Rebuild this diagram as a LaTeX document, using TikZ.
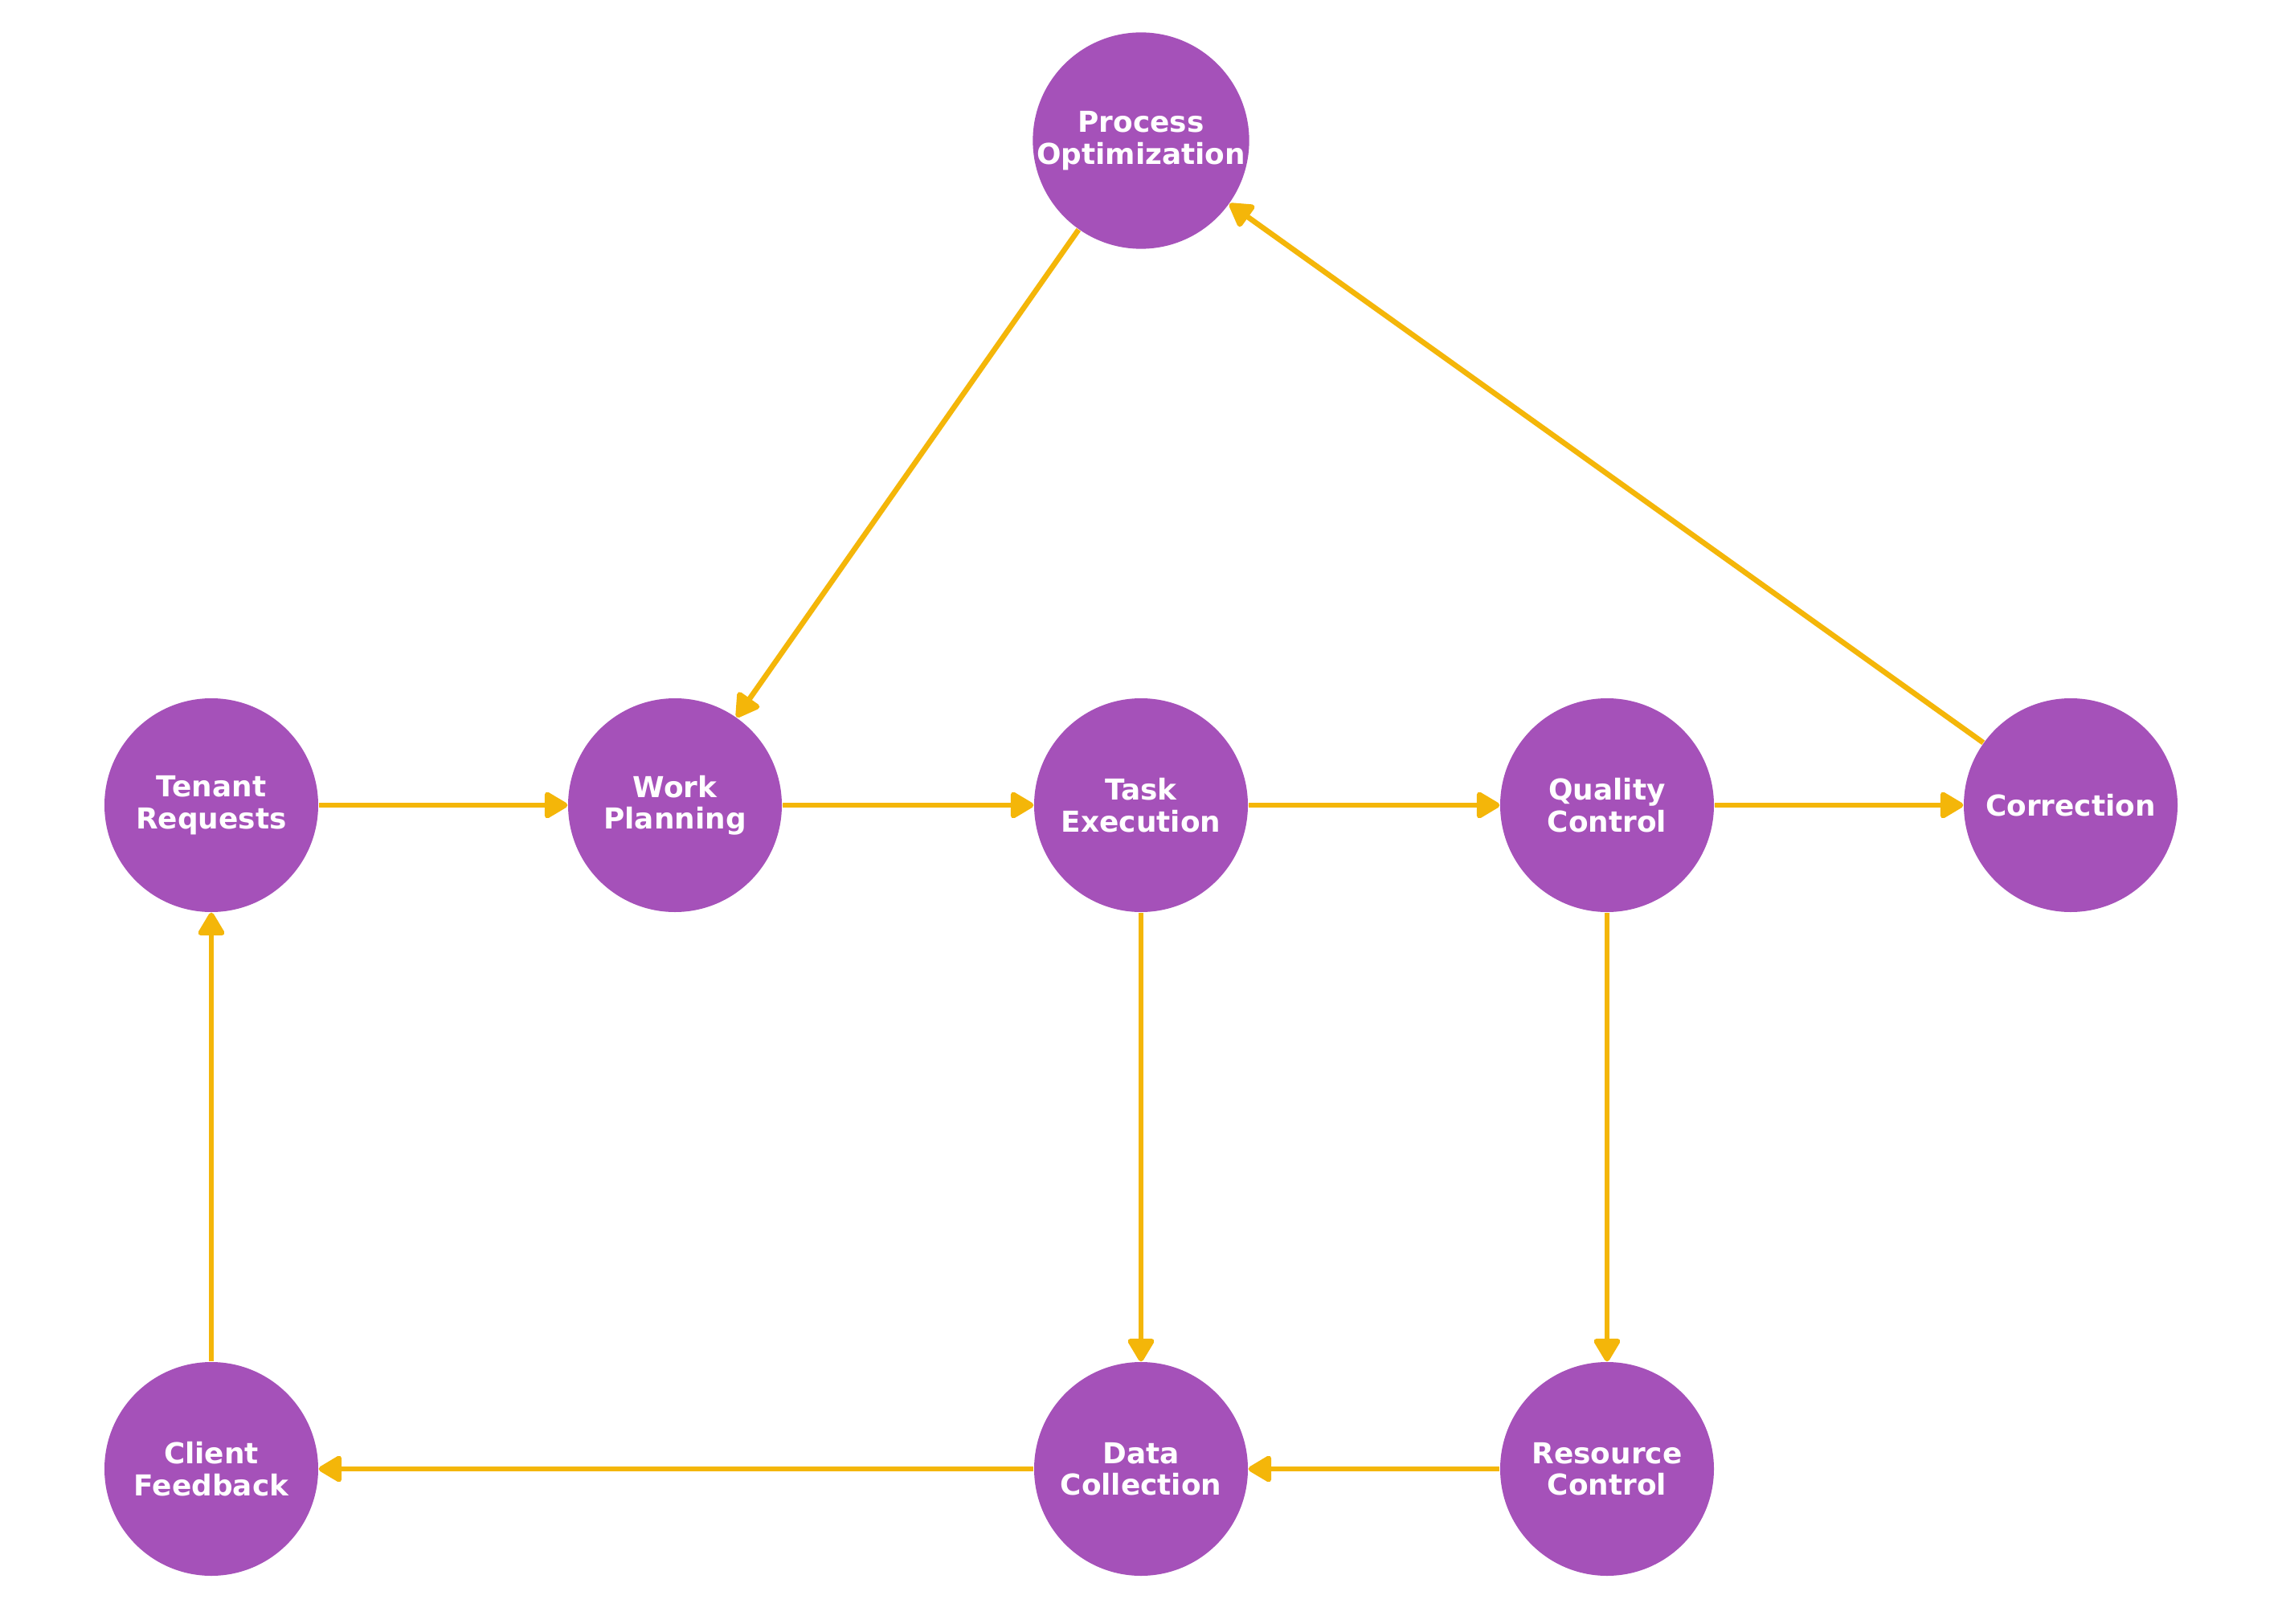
\documentclass[tikz,border=0pt]{standalone}
\usepackage{fontspec}
\setmainfont{DejaVu Sans}
\usetikzlibrary{arrows.meta}

\definecolor{stepviolet}{HTML}{A551B9}
\definecolor{flowgold}{HTML}{F4B609}

\tikzset{
	stage/.style={circle, fill=stepviolet, minimum size=2.66cm, inner sep=0pt,
		text=white, font=\bfseries\fontsize{10.2}{11.2}\selectfont, align=center},
	flow/.style={draw=flowgold, line width=1.9pt,
		-{Triangle[round, length=3.2mm, width=3.6mm]}}
}

\begin{document}
\begin{tikzpicture}
			\useasboundingbox (0,0) rectangle (28.4,-20.21);

			% Draw the stages
			\node[stage] (opt) at (14.20,-1.75) {Process\\Optimization};

			\node[stage] (tenant) at (2.63,-10.02) {Tenant\\Requests};
			\node[stage] (plan) at (8.40,-10.02) {Work\\Planning};
			\node[stage] (task) at (14.20,-10.02) {Task\\Execution};
			\node[stage] (qual) at (20.00,-10.02) {Quality\\Control};
			\node[stage] (corr) at (25.77,-10.02) {Correction};

			\node[stage] (client) at (2.63,-18.28) {Client\\Feedback};
			\node[stage] (data) at (14.20,-18.28) {Data\\Collection};
			\node[stage] (res) at (20.00,-18.28) {Resource\\Control};

			% Draw the flows
			\draw[flow] (tenant) -- (plan);
			\draw[flow] (plan) -- (task);
			\draw[flow] (task) -- (qual);
			\draw[flow] (qual) -- (corr);
			\draw[flow] (corr) -- (opt);
			\draw[flow] (opt) -- (plan);

			\draw[flow] (task) -- (data);
			\draw[flow] (qual) -- (res);
			\draw[flow] (res) -- (data);
			\draw[flow] (data) -- (client);
			\draw[flow] (client) -- (tenant);
		\end{tikzpicture}
\end{document}
